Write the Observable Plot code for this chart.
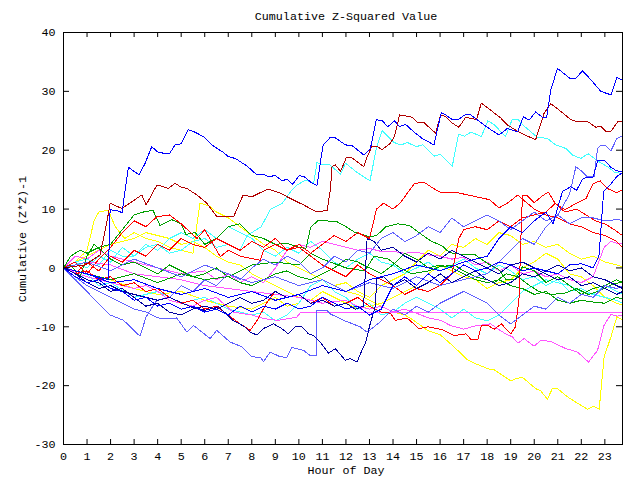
<!DOCTYPE html>
<html><head><meta charset="utf-8">
<script src="https://cdn.jsdelivr.net/npm/d3@7"></script>
<script src="https://cdn.jsdelivr.net/npm/@observablehq/plot@0.6"></script>
<style>body{margin:0;background:#fff}</style>
</head><body><div id="chart"></div>
<script>
const title = "Cumulative Z-Squared Value";
const xLabel = "Hour of Day";
const yLabel = "Cumulative (Z*Z)-1";
const xTicks = [0,1,2,3,4,5,6,7,8,9,10,11,12,13,14,15,16,17,18,19,20,21,22,23];
const yTicks = [-30,-20,-10,0,10,20,30,40];
const xDomain = [0, 23.75];
const yDomain = [-30, 40];

// each series: [hour, cumulative value]
const blueTop = [[0,0],[0.7,-0.7],[1.34,-1.4],[1.9,-2],[1.98,9.9],[2.28,9.7],[2.49,9.4],[2.62,13.3],[2.69,15.3],[2.76,17.1],[2.9,16.7],[3.21,15.8],[3.47,17.8],[3.75,20.6],[4.03,19.6],[4.5,19.4],[4.74,20.9],[4.99,21.1],[5.29,23.5],[5.52,23.2],[5.95,22.3],[6.37,20.7],[6.8,19.6],[7.01,18.9],[7.3,18.6],[7.8,17.3],[8.22,15.8],[8.5,15.9],[8.71,15.5],[9,15.7],[9.29,14.8],[9.5,15.1],[9.74,14.2],[10.02,15.7],[10.28,15.4],[10.49,14.6],[10.77,14],[10.91,17.8],[11.03,20.9],[11.34,22.2],[11.55,22.1],[11.98,20.9],[12.26,20.8],[12.76,19.2],[13.04,20.3],[13.29,25.2],[13.54,25],[13.78,24],[14.06,25],[14.28,24],[14.53,24.4],[14.89,23.1],[15.24,22],[15.74,20.9],[16.05,26.4],[16.23,26],[16.52,25.2],[16.8,25.3],[17.09,26.1],[17.3,26],[17.86,24.3],[18.15,23.5],[18.5,22.6],[18.86,23.7],[19.29,23.1],[19.54,25.7],[19.78,25.1],[20.06,26.5],[20.35,25.6],[20.53,25.6],[20.7,30.2],[20.99,33.9],[21.55,32.1],[21.77,32.2],[22.05,33.5],[22.4,32],[22.83,30],[23.26,29.4],[23.51,32.4],[23.75,31.9]];
const darkRed = [[0,0],[0.91,0.5],[1.55,2.2],[1.84,7.7],[1.98,11],[2.48,10.1],[3.33,12.4],[3.51,10.7],[3.97,14.1],[4.25,13.8],[4.46,13.5],[4.74,14.4],[4.96,13.8],[5.24,13.5],[5.67,12.4],[6.09,11],[6.52,8.7],[7.23,8.7],[7.63,12.4],[8.01,12.1],[8.36,12.8],[8.71,13.4],[9.21,12.7],[9.64,11.8],[10.2,10.7],[10.77,9.5],[11.2,9.8],[11.34,13.3],[11.41,17.2],[11.55,17.5],[11.77,16.4],[12.02,18.8],[12.26,18.7],[12.76,17.2],[12.9,18.9],[13.11,20.7],[13.3,20.7],[13.54,20.1],[13.89,21.2],[14.06,22.3],[14.28,26],[14.57,25.8],[14.82,25.6],[15.03,24.7],[15.31,24.7],[15.81,22.9],[16.02,26],[16.23,25.7],[16.52,24.6],[16.8,23.9],[17.09,25.6],[17.55,25.2],[17.75,28],[18.15,26.8],[18.57,25.5],[18.86,24.3],[19.29,23.2],[19.71,22.4],[20.06,21.8],[20.42,26.3],[20.7,27.9],[21.13,26.6],[21.55,25.2],[21.77,24.9],[22.26,24.9],[22.62,23.9],[22.83,24.1],[23.04,23.2],[23.26,23.2],[23.54,24.8],[23.75,24.9]];
const cyanTop = [[0,0],[0.5,1],[1,1.5],[1.5,0.5],[2,3],[2.5,2],[3,2],[3.5,3.5],[4,4],[4.5,2.5],[5,3],[5.5,4.5],[6,5],[6.5,3.5],[7,4],[7.5,3],[7.8,5.5],[8.4,7],[8.8,10],[9.3,11],[9.71,13.3],[9.92,14.1],[10.28,14.9],[10.63,14.4],[10.77,17.9],[10.99,17.5],[11.3,17.6],[11.77,15.9],[11.98,17.8],[12.48,16.2],[13.02,14.8],[13.31,20.6],[13.54,23.3],[14.05,21.3],[14.34,20.9],[14.62,21.3],[14.98,20.6],[15.26,20.9],[15.76,19],[16.01,19.3],[16.52,17.3],[16.78,22.7],[17.04,22.4],[17.32,23.1],[17.75,22.3],[18.03,25],[18.31,24.3],[18.78,22.3],[19.06,25.2],[19.31,25.2],[19.57,24.1],[20.13,22.2],[20.56,22],[20.91,20.9],[21.34,20.3],[21.62,19.2],[21.98,18.6],[22.29,19.4],[22.69,18.2],[23.11,17.2],[23.4,16.3],[23.75,16]];
const lightBlueRise = [[0,0],[1,1],[2,-0.5],[3,1.5],[4,0],[5,-1.5],[6,0.5],[7,-1],[8,-2.5],[9,-1.5],[10,-3],[11,-2],[12,-4],[13,-2.5],[14,-3.5],[15,-1.5],[16,-3],[17,-2],[18,-1],[18.5,1],[19,3],[19.5,5],[20,4],[20.5,7],[21,9],[21.5,12.5],[21.77,17.2],[22,16.5],[22.26,15.5],[22.54,15.5],[22.69,20.3],[22.83,20.8],[23.04,20.8],[23.26,19.9],[23.51,22],[23.75,22.4]];
const magentaFlat = [[0,0],[1,-1.5],[2,-2.5],[3,-3.5],[3.5,-3],[4,-4],[4.5,-5.5],[5.5,-6.5],[6,-5.5],[6.5,-5],[7.2,-7.5],[8,-8],[8.5,-8.6],[9.1,-8.9],[9.9,-8.4],[10.07,-7.6],[23.75,-7.6]];
const magentaLow = [[0,0],[1,1],[2,0.5],[3,-1],[4,-1.5],[5,-2],[6,-3],[7,-3.5],[8,-4],[9,-4.5],[10,-5],[11,-6],[12,-5.5],[12.5,-6.5],[13,-7],[13.5,-6.5],[14,-7.5],[14.5,-7],[15,-7.7],[15.5,-8.5],[16.02,-8.9],[16.45,-9.8],[17.01,-10.4],[17.44,-9.9],[18.15,-9.5],[18.5,-10.5],[18.79,-11.2],[19.07,-11.7],[19.31,-12.8],[19.57,-12],[19.99,-13.3],[20.28,-12.3],[20.7,-12.5],[20.91,-12.9],[21.34,-13.7],[21.84,-14.3],[22.31,-16],[22.69,-14],[22.97,-9.7],[23.26,-7.9],[23.54,-8.2],[23.75,-8]];
const magentaUp = [[0,0],[0.5,2],[1,1.5],[1.5,3],[2,2],[3,1],[4,0],[5,-1],[6,-0.5],[6.5,-2],[7,-1],[7.5,-2.5],[8,-1.5],[8.5,-2.5],[9,0],[9.5,3],[10,4],[10.5,3.5],[11,4.5],[11.5,4],[12,3.5],[12.5,3],[13,3.3],[13.5,2.8],[14,2.8],[14.5,2.5],[15,2.7],[15.5,2.2],[16,2],[16.5,1.5],[17,1.8],[17.5,0.5],[18,1],[18.5,-0.5],[19,0.5],[19.5,-1],[20,-0.5],[20.5,-1.5],[21,-1],[21.5,-2],[22,-2.5],[22.5,-1.5],[22.97,3.5],[23.26,4.5],[23.5,4.2],[23.75,4.2]];
const yellowLow = [[0,0],[0.5,1],[1,3],[1.3,8],[1.5,9.5],[1.9,9.8],[2.2,7],[2.6,5],[3,6],[3.5,5],[4,4.5],[4.5,3.5],[5,3],[5.5,2.5],[5.8,11],[6.2,10.5],[6.5,9.5],[7,8.5],[7.5,7],[8,5.5],[8.5,4],[9,3],[9.5,1],[10,0],[10.5,-1],[11,-2],[11.5,-3],[12,-4],[12.5,-4.5],[13,-5.5],[13.5,-6.5],[14,-7.5],[14.5,-8],[14.88,-8.9],[15.45,-10.6],[16.02,-11.4],[16.59,-13.4],[17.16,-15.6],[17.58,-16.4],[18.08,-17.2],[18.29,-17.3],[18.71,-18.4],[19,-19.2],[19.21,-18.8],[19.5,-18.6],[20.06,-20.5],[20.28,-20.9],[20.56,-22.3],[20.77,-20.5],[20.99,-20.5],[21.41,-21.9],[21.84,-23],[22.26,-24],[22.54,-23.5],[22.76,-24],[22.97,-15.1],[23.26,-11.7],[23.51,-8.3],[23.75,-8.8]];
const yellowMid = [[0,0],[1,-1],[2,-2],[3,-3.5],[4,-4.5],[5,-4],[6,-5.5],[7,-6.5],[8,-7],[8.5,-6],[9,-5],[9.5,-6.5],[10,-6],[10.5,-3],[11,-2],[11.5,-3],[12,-2.5],[12.5,-4],[13,-5],[13.5,-3],[14,-2],[14.5,-1],[15,1],[15.5,3],[16,2],[16.5,4],[17,3.5],[17.5,5],[18,4],[18.5,6],[19,5.5],[19.5,4],[20,4.5],[20.5,3.5],[21,4],[21.5,2.5],[22,1.5],[22.5,2],[23,1],[23.5,0.5],[23.75,0.2]];
const yellowUp = [[0,0],[1,2],[2,4],[3,5],[3.5,6],[4,5.5],[4.5,5],[5,4],[5.5,4.5],[6,3.5],[6.5,2],[7,1],[7.5,0.5],[8,-1],[8.5,-2],[9,-3],[9.5,-4],[10,-5],[10.5,-5.5],[11,-4],[11.5,-5],[12,-6],[12.5,-7],[13,-6.5],[13.5,-6],[14,-5],[14.5,-4],[15,-3],[15.5,-1],[16,0.5],[16.5,-0.5],[17,-1.5],[17.5,-2],[18,-3.5],[18.5,-2.5],[19,-2],[19.5,0],[20,1],[20.5,2.5],[21,1.5],[21.5,-1],[22,-1.5],[22.5,-3],[23,-5],[23.5,-6],[23.75,-6.3]];
const cyanMid = [[0,0],[0.5,-2],[1,-1],[1.5,-3],[2,-2.5],[3,-5],[4,-4],[5,-6],[6,-5],[7,-7],[8,-8],[8.5,-7.5],[9,-9],[9.5,-8],[10,-6],[10.5,-3],[11,-2],[11.5,-4],[12,-5],[12.5,-7],[13,-6],[13.5,-8],[14,-7.5],[14.5,-6],[15,-5],[15.5,-6],[16,-7],[16.5,-8.5],[17,-7],[17.5,-8.5],[18,-9],[18.5,-8],[19,-6],[19.5,-4],[20,-3],[20.5,-2],[21,-2.5],[21.5,-3],[22,-4],[22.5,-4.5],[23,-5],[23.5,-5.5],[23.75,-6]];
const cyanLow = [[0,0],[0.5,1],[1,0],[1.5,2],[2,1],[2.5,3.5],[3,2],[3.5,4],[4,3],[4.5,5],[5,6],[5.5,5],[6,6.5],[6.5,5],[7,7],[7.5,6],[8,5],[8.5,3],[9,2],[9.5,3.5],[10,2.5],[10.5,4.5],[11,3],[11.5,1],[12,0],[12.5,1.5],[13,2.5],[13.5,1],[14,0.5],[14.5,-1],[15,0],[15.5,1],[16,-0.5],[16.5,0.5],[17,1.5],[17.5,0],[18,-1],[18.5,0.5],[19,-0.5],[19.5,-2],[20,-1.5],[20.5,-3],[21,-2],[21.5,-4],[22,-3.5],[22.5,-4.5],[23,-3],[23.5,-4],[23.75,-4.5]];
const greenUp = [[0,0],[0.3,2],[0.7,3],[1,2.5],[1.5,3.5],[2,4],[2.5,6.5],[3,9],[3.4,9.5],[3.8,9.8],[4.1,7.2],[4.6,8.2],[5,7.5],[5.2,5.7],[5.6,6],[6,4],[6.5,5],[7,7],[7.5,7.5],[8,5.5],[8.5,5],[9,4],[9.5,4.2],[10,3.5],[10.3,3.3],[10.5,6.9],[10.8,8],[11.1,8],[11.6,7.9],[12,7],[12.4,6],[13,5.3],[13.3,5.5],[13.7,7],[14.2,7.5],[14.7,7.2],[15.1,6],[15.6,4.6],[16.1,3.7],[16.4,2.6],[16.9,2.3],[17.5,2.2],[18,0.8],[18.5,-0.3],[18.8,-2],[19.2,-2],[19.5,0.2],[20,-0.5],[20.5,-2.5],[21,-1.5],[21.5,-3],[22,-4.5],[22.5,-3.5],[23,-3],[23.5,-2],[23.75,-2.5]];
const greenLow = [[0,0],[0.3,0.5],[0.7,-1.5],[1,2],[1.3,4],[1.6,3],[2,1.5],[2.5,0.5],[3,1],[3.5,0],[4,-1],[4.5,0.5],[5,-0.5],[5.5,-1.5],[6,-1],[6.5,0],[7,-1.5],[7.5,-2.5],[8,-3],[8.5,-2],[9,-1],[9.5,-0.5],[10,-1.5],[10.5,-2],[11,-1],[11.5,0],[12,1.5],[12.5,1],[13,0],[13.5,-1],[14,0.5],[14.5,2.5],[15,1.5],[15.5,0],[16,0.5],[16.5,0],[17,-1],[17.5,-2],[18,-2.5],[18.5,-2],[19,-3],[19.5,-3.5],[20,-4.5],[20.5,-4],[21,-5.5],[21.5,-6],[22,-5.5],[22.5,-5.8],[23,-6],[23.5,-5],[23.75,-5.3]];
const greenMid = [[0,0],[1,-1],[2,-2],[3,-1],[4,-2.5],[5,-1],[6,-2],[7,-1.5],[8,0.5],[9,1],[10,0.5],[10.5,2.5],[11,1.5],[12,0],[12.8,-0.5],[13.2,2],[13.8,1.5],[14.3,0],[14.8,-1],[15.5,-0.5],[16,0.2],[16.6,0.5],[17,-0.5],[17.5,-1.5],[18,-2],[18.3,-2.5],[18.8,-1],[19.3,-1.5],[19.8,-3],[20.2,-4],[20.7,-4.5],[21.3,-4.3],[21.8,-3.5],[22.3,-4.5],[22.7,-4],[23.2,-3],[23.75,-2.3]];
const blueJump = [[0,0],[0.5,-1.5],[1,-2.5],[1.5,-2],[2,-3.5],[2.5,-4],[3,-5.5],[3.5,-5],[4,-6.5],[4.5,-6],[5,-7],[5.5,-6.5],[6,-7.5],[6.5,-7],[7,-8],[7.5,-6.5],[8,-7.5],[8.5,-6.5],[9,-7],[9.5,-6],[10,-7],[10.5,-6.5],[11,-5],[11.5,-6],[12,-7],[12.5,-6.5],[13,-8],[13.5,-7],[14,-3],[14.5,-1.5],[15,-3],[15.5,-1],[16,-2.5],[16.5,-1],[17,0.5],[17.5,-0.5],[18,0],[18.5,1],[19,0.5],[19.5,-0.5],[20,0],[20.5,-0.5],[21,-1],[21.5,0.5],[22,0.7],[22.5,0],[22.75,2],[22.95,13],[23.2,14],[23.5,15.5],[23.75,16.2]];
const navyDip = [[0,0],[0.5,-1],[1,-2.5],[1.5,-3.5],[2,-3],[2.5,-4],[3,-4.5],[3.5,-5],[4,-5.5],[4.5,-5],[5.4,-6.6],[6,-7.2],[6.6,-6.6],[7.2,-8.9],[7.7,-10],[7.93,-10.9],[8.21,-11.4],[8.49,-10.3],[8.92,-9.5],[9.27,-10.3],[9.55,-11.2],[9.84,-10],[10.12,-10],[10.41,-11.2],[10.62,-11.5],[10.91,-12.6],[11.26,-14.5],[11.55,-13.7],[11.97,-15.7],[12.18,-15.4],[12.47,-16],[12.68,-14],[12.82,-12.9],[13.03,-9.5],[13.24,-6.6],[13.32,-1.8],[13.6,-1.5],[14,-3],[14.5,-2],[15,-3.5],[15.5,-2.5],[16,-1],[16.5,-2.5],[17,-1.5],[17.5,-0.5],[18,-2],[18.5,-3],[19,-2.5],[19.5,-1],[20,-1.5],[20.5,-0.5],[21,0.5],[21.5,-0.5],[22,0],[22.5,-1.5],[23,-2],[23.5,-3],[23.75,-3.5]];
const lightBlueLow = [[0,0],[0.5,-1.5],[1,-3],[1.5,-4],[2,-5],[2.5,-6],[3,-7],[3.5,-7.5],[4,-8.5],[4.5,-8.6],[4.81,-8.5],[5.24,-10.9],[5.52,-9.75],[6.23,-12],[6.51,-10.6],[7.08,-12.6],[7.58,-13.4],[8,-15.1],[8.36,-15.2],[8.5,-15.9],[8.78,-14.3],[9.21,-15.1],[9.49,-15.2],[9.7,-13.5],[10.2,-14],[10.48,-14.9],[10.73,-14.9],[10.74,-7.2],[11.19,-7.2],[11.33,-7.8],[11.9,-8.9],[12.6,-10],[12.89,-10.9],[13.2,-10],[13.5,-9],[14,-7],[14.5,-8],[15,-6.5],[15.5,-7.5],[16,-6],[16.5,-5],[17,-4],[17.5,-5],[18,-6],[18.5,-8],[19,-9.5],[19.5,-8],[20,-6.5],[20.5,-7],[21,-5],[21.5,-6],[22,-4.5],[22.5,-5],[23,-3],[23.5,-3.5],[23.75,-3]];
const lightBlueDip = [[0,0],[0.5,-2],[1,-4],[1.34,-5.5],[1.98,-8],[2.55,-8.9],[3.25,-11.6],[3.51,-8.3],[3.96,-5.5],[4.5,-5],[5,-3],[5.5,-4],[6,-2],[6.5,-3],[7,-1],[7.5,-2],[8,0],[8.5,1.5],[9,0.5],[9.5,2],[10,1],[10.5,-1],[11,0],[11.5,2],[12,1],[12.5,3],[13,2.5],[13.5,5],[14,6],[14.5,4.5],[15,5.5],[15.5,7],[16,6],[16.5,8.5],[17,7],[17.5,8],[18,9],[18.5,8],[19,6.5],[19.5,8],[20,9.5],[20.5,8],[21,9],[21.5,7.5],[22,8.5],[22.5,8.5],[23,8],[23.5,8.2],[23.75,8.1]];
const navyMid = [[0,0],[0.5,-1],[1,-2],[1.5,-2.5],[2,-4],[2.5,-3.5],[3,-5],[3.5,-6.5],[4,-6],[4.5,-7.5],[5,-8],[5.5,-7],[6,-6.5],[6.5,-7],[7,-6],[7.5,-5],[8,-6],[8.5,-5.5],[9,-4],[9.5,-5],[10,-4.5],[10.5,-6],[11,-5.5],[11.5,-6.5],[12,-6],[12.4,-7],[12.75,-6.5],[12.9,5],[13.2,4.5],[13.5,3],[14,3.5],[14.5,2],[15,1],[15.5,2.5],[16,1.5],[16.5,3],[17,2],[17.5,1],[18,0],[18.5,-1],[19,0.5],[19.5,1],[20,0],[20.5,-1],[21,-2],[21.5,-1.5],[22,-3],[22.5,-2.5],[23,-3.5],[23.5,-4.5],[23.75,-4]];
const blueHigh = [[0,0],[1,-1],[2,-2.5],[3,-2],[4,-3.5],[5,-4.5],[6,-3.5],[7,-5],[8,-4],[9,-5.5],[10,-4.5],[11,-3],[12,-4],[13,-2],[14,-1],[15,0.5],[16,-0.5],[17,1],[18,2],[18.5,5],[19,7],[19.5,6],[20,8],[20.5,9.5],[20.8,7.5],[21.2,13],[21.55,13.8],[21.8,13.2],[22.05,15.1],[22.26,15.4],[22.5,15.4],[22.7,18.3],[22.97,18.3],[23.26,17.1],[23.5,16.5],[23.75,16.3]];
const redTop = [[0,0],[0.5,-1],[1,1],[1.5,-0.5],[2,2],[2.5,1],[3,3],[3.5,2],[4,4],[4.5,3],[5,5],[5.5,4],[6,3.5],[6.5,5],[7,4],[7.5,3],[8,4.5],[8.5,3.5],[9,5],[9.5,3],[10,4],[10.5,2.5],[11,4],[11.5,5.5],[12,4.5],[12.5,6],[13,5],[13.3,10],[13.6,11],[14,10],[14.3,11],[14.9,14.3],[15.3,14.6],[15.8,13.3],[16,12.9],[16.6,12.9],[17.3,12.3],[18.1,11.6],[18.5,10.2],[18.9,11.1],[19.3,12.4],[19.7,11],[20,10],[20.5,9],[21,8.5],[21.5,7.5],[22,7],[22.5,6],[23,5.5],[23.5,4.5],[23.75,3.5]];
const redMid = [[0,0],[0.5,1],[1,-1],[1.5,1.5],[2,3.5],[2.5,6],[3,8],[3.5,7],[3.97,8.7],[4.5,9],[5,7.5],[5.67,5],[6,6.5],[6.66,1.9],[7,3],[7.5,2],[8.36,1.3],[8.5,3],[9,4],[9.5,3],[10,3.5],[10.5,2],[11,0.5],[11.5,-0.5],[12,-1.5],[12.5,0.5],[13,-1],[13.5,-2],[14,-3],[14.5,-4.5],[15,-3.5],[15.5,-4],[16,-3],[16.5,-1],[16.8,5],[17,6.5],[17.5,7],[18,6.5],[18.5,8],[19,7],[19.5,8.5],[20,9],[20.5,9.5],[20.9,11],[21.3,9.5],[21.8,10],[22.2,9],[22.6,8],[23,7.5],[23.4,6.5],[23.75,5.5]];
const redLow = [[0,0],[0.5,-1],[1,-0.5],[1.5,-2],[2,-1.5],[2.5,-3],[3,-2.5],[3.5,-4],[4,-3.5],[4.5,-5],[5,-6],[5.5,-5.5],[6,-7],[6.5,-6.5],[7,-8],[7.5,-9.5],[7.93,-10.6],[8.2,-9.1],[8.5,-6.9],[8.7,-5.5],[9,-4],[9.5,-5],[10,-4.5],[10.5,-6],[11,-5],[11.5,-6.5],[12,-6],[12.5,-5],[13,-6.5],[13.5,-7.5],[13.89,-7.7],[14.1,-8.9],[14.6,-8.5],[15.1,-10.3],[15.5,-10],[16.1,-10.5],[16.6,-11.5],[17.1,-11.2],[17.3,-12.1],[17.6,-12.2],[17.75,-9.8],[18,-9.7],[18.3,-10.4],[18.6,-9.5],[19,-11.2],[19.2,-10],[19.35,-5.5],[19.45,7],[19.5,12.3],[19.7,12.3],[20,11.1],[20.3,12.1],[20.6,12.9],[20.9,10.9],[21.3,9.9],[21.8,11],[22.2,11.8],[22.5,14.3],[22.8,14.8],[23.1,13.5],[23.5,12.8],[23.75,13.3]];

const seriesNames = ["yellowLow","yellowMid","yellowUp","cyanMid","cyanLow","cyanTop","magentaFlat","magentaLow","magentaUp","greenUp","greenLow","greenMid","redMid","redLow","redTop","lightBlueRise","lightBlueLow","lightBlueDip","navyMid","navyDip","blueJump","blueHigh","darkRed","blueTop"];
const seriesValues = [yellowLow,yellowMid,yellowUp,cyanMid,cyanLow,cyanTop,magentaFlat,magentaLow,magentaUp,greenUp,greenLow,greenMid,redMid,redLow,redTop,lightBlueRise,lightBlueLow,lightBlueDip,navyMid,navyDip,blueJump,blueHigh,darkRed,blueTop];
const seriesColors = ["#ffff00","#ffff00","#ffff00","#40ffff","#40ffff","#40ffff","#ff55ff","#ff55ff","#ff55ff","#00a000","#00a000","#00a000","#ff0000","#ff0000","#ff0000","#6060ff","#6060ff","#6060ff","#0000a0","#0000a0","#0000ff","#0000ff","#b00000","#0000ff"];

const rows = seriesValues.flatMap((pts, i) => pts.map(([h, v]) => ({series: seriesNames[i], hour: h, value: v})));

const W = 640, H = 480, mL = 63, mR = 18, mT = 32, mB = 36;
const plotW = W - mL - mR, plotH = H - mT - mB;
const font = "'Liberation Mono', 'DejaVu Sans Mono', monospace";

const chart = Plot.plot({
  width: W, height: H,
  marginLeft: mL, marginRight: mR, marginTop: mT, marginBottom: mB,
  style: {fontFamily: font, fontSize: "11.7px", color: "#000", background: "#fff"},
  x: {domain: xDomain},
  y: {domain: yDomain},
  color: {domain: seriesNames, range: seriesColors},
  marks: [
    Plot.line(rows, {x: "hour", y: "value", z: "series", stroke: "series", strokeWidth: 1, shapeRendering: "crispEdges"}),
    Plot.frame({stroke: "#000", strokeWidth: 1}),
    Plot.tickX(xTicks, {x: d => d, insetTop: plotH - 5, stroke: "#000"}),
    Plot.tickX(xTicks, {x: d => d, insetBottom: plotH - 5, stroke: "#000"}),
    Plot.tickY(yTicks, {y: d => d, insetRight: plotW - 6, stroke: "#000"}),
    Plot.tickY(yTicks, {y: d => d, insetLeft: plotW - 6, stroke: "#000"}),
    Plot.axisX({ticks: xTicks, tickSize: 0, tickPadding: 7, label: null, tickFormat: d => String(d)}),
    Plot.axisY({ticks: yTicks, tickSize: 0, tickPadding: 8, label: null, tickFormat: d => String(d)})
  ]
});

const svg = d3.select(chart);
svg.append("text").attr("x", 346).attr("y", 20).attr("text-anchor", "middle")
  .attr("font-family", font).attr("font-size", "11.7px").attr("fill", "#000").text(title);
svg.append("text").attr("x", 346).attr("y", 474).attr("text-anchor", "middle")
  .attr("font-family", font).attr("font-size", "11.7px").attr("fill", "#000").text(xLabel);
svg.append("text").attr("transform", "translate(26,239) rotate(-90)").attr("text-anchor", "middle")
  .attr("font-family", font).attr("font-size", "11.7px").attr("fill", "#000").text(yLabel);

document.getElementById("chart").appendChild(chart);
</script>
</body></html>
